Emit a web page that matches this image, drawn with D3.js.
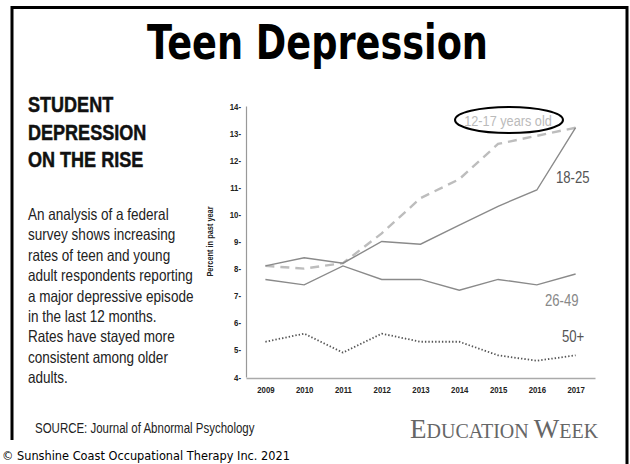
<!DOCTYPE html>
<html>
<head>
<meta charset="utf-8">
<script src="https://cdn.jsdelivr.net/npm/d3@7"></script>
<style>
  html, body { margin: 0; padding: 0; background: #fff; }
  svg { display: block; }
  .narrow { font-family: "Liberation Sans", Arial, sans-serif; }
</style>
</head>
<body>
<svg id="chart" width="630" height="464"></svg>
<script>
// Share of each age group reporting a major depressive episode in the past year (%)
const years = [2009, 2010, 2011, 2012, 2013, 2014, 2015, 2016, 2017];
const teens12to17 = [8.1, 8.0, 8.2, 9.3, 10.6, 11.3, 12.6, 12.9, 13.2];
const adults18to25 = [8.1, 8.4, 8.2, 9.0, 8.9, 9.6, 10.3, 10.9, 13.2];
const adults26to49 = [7.6, 7.4, 8.1, 7.6, 7.6, 7.2, 7.6, 7.4, 7.8];
const adults50plus = [5.3, 5.6, 4.9, 5.6, 5.3, 5.3, 4.8, 4.6, 4.8];
const yTicks = [4, 5, 6, 7, 8, 9, 10, 11, 12, 13, 14];
const seriesNames = ["12-17 years old", "18-25", "26-49", "50+"];

const headingLines = ["STUDENT", "DEPRESSION", "ON THE RISE"];
const blurbLines = [
  "An analysis of a federal",
  "survey shows increasing",
  "rates of teen and young",
  "adult respondents reporting",
  "a major depressive episode",
  "in the last 12 months.",
  "Rates have stayed more",
  "consistent among older",
  "adults."
];

const NARROW = 0.82; // horizontal squeeze that turns the sans into a condensed face

// squeeze each text of a selection to a fraction of its natural width
function condense(sel, k = NARROW) {
  sel.each(function () {
    const w = this.getComputedTextLength();
    d3.select(this).attr("textLength", w * k).attr("lengthAdjust", "spacingAndGlyphs");
  });
  return sel;
}

const svg = d3.select("#chart");

// slide frame
svg.append("path")
  .attr("d", "M12,466V7.5H627V466")
  .attr("fill", "none").attr("stroke", "#000").attr("stroke-width", 3);

// title
svg.append("text")
  .attr("x", 147).attr("y", 59)
  .attr("textLength", 341).attr("lengthAdjust", "spacingAndGlyphs")
  .style("font-family", "'DejaVu Sans', Verdana, sans-serif")
  .style("font-weight", "bold").style("font-size", "48px")
  .text("Teen Depression");

// left column heading
svg.append("g").selectAll("text").data(headingLines).join("text")
  .attr("class", "narrow")
  .attr("x", 28).attr("y", (d, i) => 112 + i * 27.5)
  .style("font-weight", "bold").style("font-size", "22px")
  .attr("fill", "#111").attr("stroke", "#111").attr("stroke-width", 0.5)
  .text(d => d)
  .call(condense);

// left column blurb
svg.append("g").selectAll("text").data(blurbLines).join("text")
  .attr("class", "narrow")
  .attr("x", 28).attr("y", (d, i) => 220 + i * 20.4)
  .style("font-size", "16.5px").attr("fill", "#222")
  .text(d => d)
  .call(condense);

// scales
const x = d3.scalePoint().domain(years).range([246, 595]).padding(0.5);
const y = d3.scaleLinear().domain([4, 14]).range([377, 106]);

// y axis: labels carry their own dash
const yAxis = svg.append("g")
  .attr("transform", "translate(246,0)")
  .call(d3.axisLeft(y).tickValues(yTicks).tickSize(0).tickPadding(5).tickFormat(d => d + "-"));
yAxis.select(".domain").attr("stroke", "#999").attr("stroke-width", 1.2);
yAxis.selectAll("text")
  .attr("class", "narrow")
  .style("font-size", "9.5px").style("font-weight", "bold").attr("fill", "#222")
  .call(condense);

svg.append("text")
  .attr("class", "narrow")
  .attr("transform", `translate(213,${y(9)}) rotate(-90)`)
  .attr("text-anchor", "middle")
  .style("font-size", "9px").style("font-weight", "bold").attr("fill", "#222")
  .text("Percent in past year")
  .call(condense);

// x axis
const xAxis = svg.append("g")
  .attr("transform", "translate(0,378)")
  .call(d3.axisBottom(x).tickSize(0).tickPadding(8));
xAxis.select(".domain").attr("stroke", "#aaa").attr("stroke-width", 1.6);
xAxis.selectAll("text")
  .attr("class", "narrow")
  .style("font-size", "9.5px").style("font-weight", "bold").attr("fill", "#222")
  .call(condense);

// series lines
const line = d3.line().x((d, i) => x(years[i])).y(d => y(d));
const series = [
  { name: seriesNames[0], values: teens12to17, stroke: "#bdbdbd", width: 2.4, dash: "9,6" },
  { name: seriesNames[1], values: adults18to25, stroke: "#8a8a8a", width: 1.4, dash: null },
  { name: seriesNames[2], values: adults26to49, stroke: "#8a8a8a", width: 1.4, dash: null },
  { name: seriesNames[3], values: adults50plus, stroke: "#555", width: 1.8, dash: "1.4,2" }
];
svg.append("g").selectAll("path").data(series).join("path")
  .attr("d", d => line(d.values))
  .attr("fill", "none")
  .attr("stroke", d => d.stroke)
  .attr("stroke-width", d => d.width)
  .attr("stroke-dasharray", d => d.dash);

// series labels
svg.append("text").attr("class", "narrow").attr("x", 508).attr("y", 126).attr("text-anchor", "middle")
  .style("font-size", "15.5px").attr("fill", "#bbb")
  .text(seriesNames[0]).call(condense);
svg.append("ellipse").attr("cx", 509).attr("cy", 120).attr("rx", 54).attr("ry", 13)
  .attr("fill", "none").attr("stroke", "#000").attr("stroke-width", 2);
svg.append("text").attr("class", "narrow").attr("x", 556).attr("y", 183)
  .style("font-size", "16px").attr("fill", "#555")
  .text(seriesNames[1]).call(condense);
svg.append("text").attr("class", "narrow").attr("x", 545).attr("y", 306)
  .style("font-size", "16px").attr("fill", "#888")
  .text(seriesNames[2]).call(condense);
svg.append("text").attr("class", "narrow").attr("x", 562).attr("y", 342)
  .style("font-size", "16px").attr("fill", "#555")
  .text(seriesNames[3]).call(condense);

// footer
svg.append("text").attr("class", "narrow")
  .attr("x", 35).attr("y", 433)
  .style("font-size", "14px").attr("fill", "#222")
  .text("SOURCE: Journal of Abnormal Psychology")
  .call(condense);

const brand = svg.append("text").attr("x", 410).attr("y", 438)
  .style("font-family", "'Liberation Serif', 'DejaVu Serif', serif").attr("fill", "#666");
brand.append("tspan").style("font-size", "27px").text("E");
brand.append("tspan").style("font-size", "20px").text("DUCATION ");
brand.append("tspan").style("font-size", "27px").text("W");
brand.append("tspan").style("font-size", "20px").text("EEK");

svg.append("rect").attr("x", 0).attr("y", 440).attr("width", 296).attr("height", 24).attr("fill", "#fff");
svg.append("text").attr("x", 2).attr("y", 460)
  .attr("textLength", 288).attr("lengthAdjust", "spacingAndGlyphs")
  .style("font-family", "'DejaVu Sans', Verdana, sans-serif").style("font-size", "12px").attr("fill", "#000")
  .text("© Sunshine Coast Occupational Therapy Inc. 2021");
</script>
</body>
</html>
